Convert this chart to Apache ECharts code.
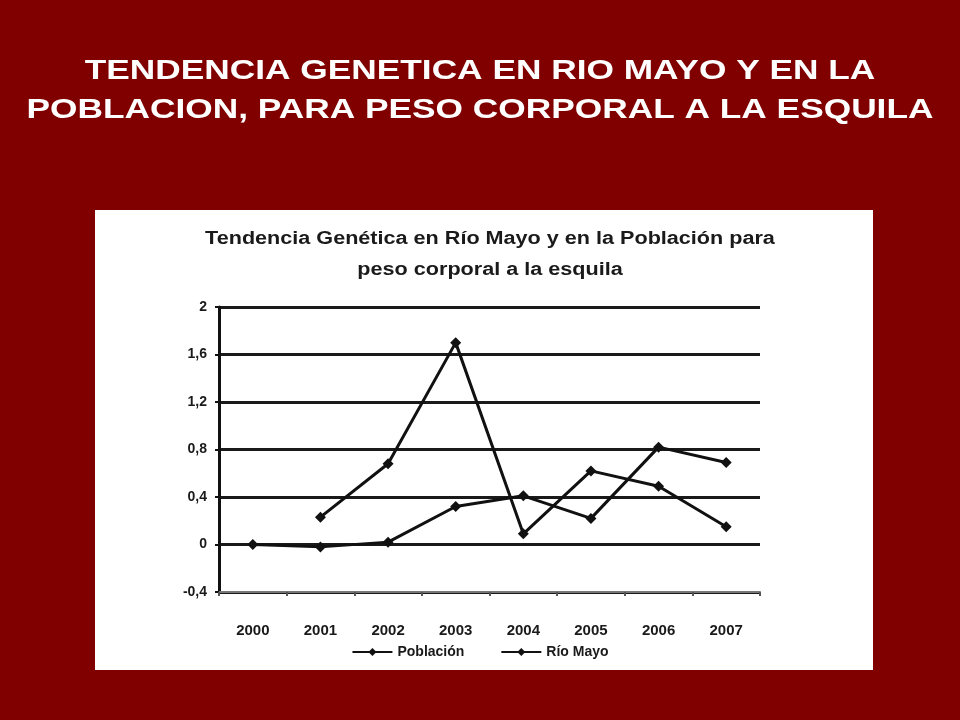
<!DOCTYPE html>
<html>
<head>
<meta charset="utf-8">
<script src="https://cdn.jsdelivr.net/npm/echarts@6/dist/echarts.min.js"></script>
<style>
html,body{margin:0;padding:0;background:#800000;}
#c{width:960px;height:720px;}
</style>
</head>
<body>
<div id="c"></div>
<script>
const years = ['2000','2001','2002','2003','2004','2005','2006','2007'];
const poblacion = [0, -0.02, 0.02, 0.32, 0.41, 0.22, 0.82, 0.69];
const rioMayo = [null, 0.23, 0.68, 1.70, 0.09, 0.62, 0.49, 0.15];
const yTicks = [-0.4, 0, 0.4, 0.8, 1.2, 1.6, 2];

const chart = echarts.init(document.getElementById('c'), null, {renderer:'canvas'});
const lineStyle = {color:'#111', width:3};
const lblFont = '"Liberation Sans", Arial, sans-serif';
chart.setOption({
  backgroundColor:'#800000',
  animation:false,
  graphic:[
    {type:'rect', z:-10, shape:{x:95,y:210,width:778,height:460}, style:{fill:'#ffffff'}},
    {type:'text', z:10, x:480, y:52, scaleX:1.26, originX:0, originY:0,
      style:{text:'TENDENCIA GENETICA EN RIO MAYO Y EN LA\nPOBLACION, PARA PESO CORPORAL A LA ESQUILA', fill:'#ffffff', font:'bold 28px "Liberation Sans", Arial, sans-serif', textAlign:'center', lineHeight:39}},
    {type:'text', z:10, x:490, y:224, scaleX:1.2, originX:0, originY:0,
      style:{text:'Tendencia Genética en Río Mayo y en la Población para\npeso corporal a la esquila', fill:'#1a1a1a', font:'bold 18px "Liberation Sans", Arial, sans-serif', textAlign:'center', lineHeight:31}}
  ],
  grid:{left:219, right:200, top:307, bottom:128},
  xAxis:{
    type:'category', data:years, boundaryGap:true,
    axisLine:{onZero:false, lineStyle:{color:'#777', width:2}},
    axisTick:{show:true, alignWithLabel:false, length:4, lineStyle:{color:'#555', width:2}},
    axisLabel:{margin:31, color:'#1a1a1a', fontWeight:'bold', fontSize:15, fontFamily:lblFont}
  },
  yAxis:{
    type:'value', min:-0.4, max:2, interval:0.4,
    axisLine:{show:true, lineStyle:{color:'#111', width:3}},
    axisTick:{show:true, length:4, lineStyle:{color:'#111', width:2}},
    axisLabel:{margin:12, color:'#1a1a1a', fontWeight:'bold', fontSize:14, fontFamily:lblFont,
      formatter:v=>{const t=yTicks.find(x=>Math.abs(x-v)<1e-6); return (t===undefined? v : t).toString().replace('.',',');}},
    splitLine:{show:true, lineStyle:{color:'#1a1a1a', width:3}}
  },
  legend:{
    top:640, left:'center', itemWidth:40, itemHeight:10, itemGap:36,
    textStyle:{color:'#1a1a1a', fontSize:14, fontWeight:'bold', fontFamily:lblFont},
    data:['Población','Río Mayo']
  },
  series:[
    {name:'Población', type:'line', data:poblacion, symbol:'diamond', symbolSize:11, lineStyle:lineStyle, itemStyle:{color:'#111'}},
    {name:'Río Mayo', type:'line', data:rioMayo, symbol:'diamond', symbolSize:11, lineStyle:lineStyle, itemStyle:{color:'#111'}}
  ]
});
</script>
</body>
</html>
